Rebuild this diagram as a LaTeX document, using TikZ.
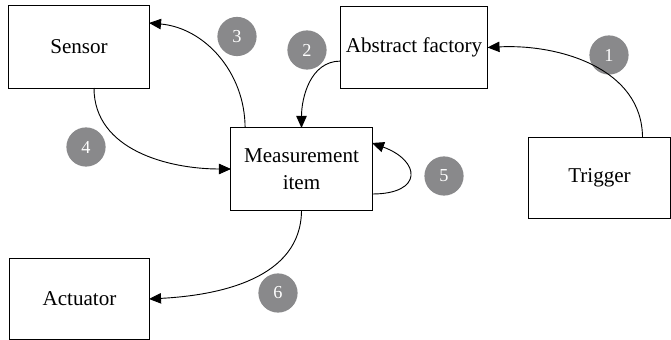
\documentclass[tikz,border=0pt]{standalone}
\usepackage{fontspec}
\setmainfont{Liberation Serif}
\usetikzlibrary{arrows.meta}
\definecolor{badgegray}{RGB}{137,137,139}
\begin{document}
\begin{tikzpicture}[x=0.025cm,y=-0.025cm,
  box/.style={draw=black,line width=0.7pt,fill=white,inner sep=0pt,outer sep=0pt,
    align=center,font=\fontsize{15pt}{19pt}\selectfont},
  badge/.style={circle,fill=badgegray,text=white,inner sep=0pt,minimum size=0.98cm,
    font=\fontsize{13pt}{15pt}\selectfont},
  flow/.style={line width=0.65pt,-{Triangle[length=0.3cm,width=0.26cm]}}]
  \useasboundingbox (0,0) rectangle (671,340);

  % boxes
  \node[box,minimum width=3.5cm,minimum height=2.05cm] (sensor) at (79,47) {Sensor};
  \node[box,minimum width=3.675cm,minimum height=2.025cm] (factory) at (414,47.5) {Abstract factory};
  \node[box,minimum width=3.525cm,minimum height=2.05cm] (meas) at (301.5,169) {Measurement\\item};
  \node[box,minimum width=3.525cm,minimum height=2.0cm] (trigger) at (599.5,178) {Trigger};
  \node[box,minimum width=3.475cm,minimum height=2.0cm] (actuator) at (79.5,299) {Actuator};

  % step badges
  \node[badge] (c1) at (609,55) {1};
  \node[badge] (c2) at (307,50) {2};
  \node[badge] (c3) at (237,36.5) {3};
  \node[badge] (c4) at (86,147) {4};
  \node[badge] (c5) at (444,176) {5};
  \node[badge] (c6) at (278,293) {6};

  % connectors
  \draw[flow] ([xshift=1.075cm]trigger.north) to[out=90,in=3] (factory.east);
  \draw[flow] ([yshift=-0.34cm]factory.west) to[out=180,in=90] (meas.north);
  \draw[flow] ([xshift=-1.41cm]meas.north) to[out=90,in=-5] ([yshift=0.6cm]sensor.east);
  \draw[flow] ([xshift=0.375cm]sensor.south) to[out=-90,in=180] (meas.west);
  \draw[flow] ([yshift=-0.625cm]meas.east) to[out=0,in=-20,looseness=2.6] ([yshift=0.65cm]meas.east);
  \draw[flow] (meas.south) to[out=-90,in=3] (actuator.east);
\end{tikzpicture}
\end{document}
